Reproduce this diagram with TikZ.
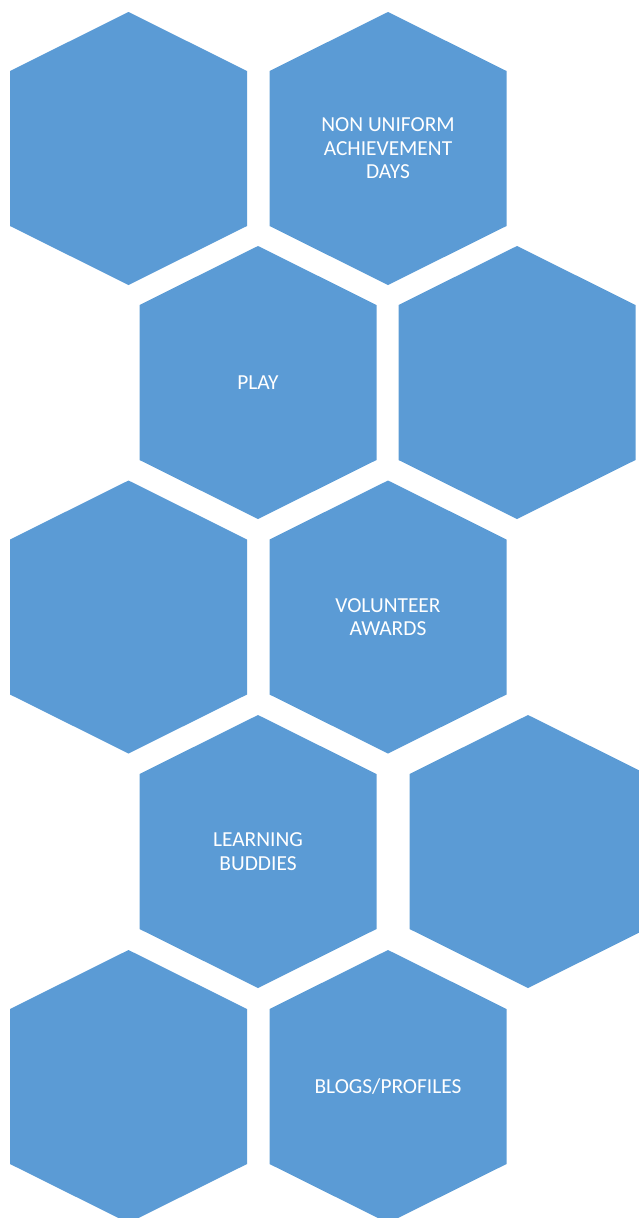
\documentclass[tikz,border=0pt]{standalone}
\usepackage{fontspec}
\setmainfont{Carlito}
\definecolor{hexblue}{HTML}{5B9BD5}
\newcommand\myhex[4]{%
  \fill[hexfill] (#2,#3) ++(0,-136.5) -- ++(118.5,59) -- ++(0,155) -- ++(-118.5,59) -- ++(-118.5,-59) -- ++(0,-155) -- cycle;
  \node[hextext] (#1) at (#2,#3) {#4};}
\begin{document}
\begin{tikzpicture}[x=1pt,y=-1pt,
  hexfill/.style={fill=hexblue},
  hextext/.style={text=white,align=center,font=\fontsize{21.4}{23.5}\selectfont,inner sep=0pt}]
\useasboundingbox (0,0) rectangle (639,1218);
\clip (0,0) rectangle (639,1218);
\myhex{h1}{128.5}{148.5}{}
\myhex{h2}{388}{148.5}{NON UNIFORM\\ACHIEVEMENT\\DAYS}
\myhex{h3}{258}{382.5}{PLAY}
\myhex{h4}{517}{382.5}{}
\myhex{h5}{128.5}{617}{}
\myhex{h6}{388}{617}{VOLUNTEER\\AWARDS}
\myhex{h7}{258}{851.5}{LEARNING\\BUDDIES}
\myhex{h8}{528}{851.5}{}
\myhex{h9}{128.5}{1086.5}{}
\myhex{h10}{388}{1086.5}{BLOGS/PROFILES}
\end{tikzpicture}
\end{document}
